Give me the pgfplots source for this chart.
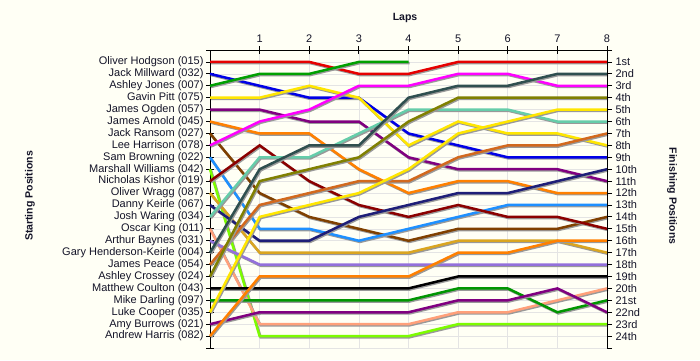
\documentclass[border=0pt]{standalone}
\usepackage{pgfplots}
\pgfplotsset{compat=1.18}
\usepackage{fontspec}
\setmainfont{Liberation Sans}
\definecolor{bg}{RGB}{255,255,245}
\definecolor{gridc}{RGB}{228,228,228}
\definecolor{cHodgson}{RGB}{230,0,0}
\definecolor{cMillward}{RGB}{0,0,230}
\definecolor{cJones}{RGB}{0,160,0}
\definecolor{cPitt}{RGB}{255,230,0}
\definecolor{cOgden}{RGB}{128,0,128}
\definecolor{cArnold}{RGB}{255,128,0}
\definecolor{cRansom}{RGB}{128,64,0}
\definecolor{cHarrison}{RGB}{255,0,255}
\definecolor{cBrowning}{RGB}{30,144,255}
\definecolor{cWilliams}{RGB}{124,252,0}
\definecolor{cKishor}{RGB}{139,0,0}
\definecolor{cWragg}{RGB}{218,165,32}
\definecolor{cKeirle}{RGB}{30,30,120}
\definecolor{cWaring}{RGB}{102,205,170}
\definecolor{cKing}{RGB}{255,160,122}
\definecolor{cBaynes}{RGB}{147,112,219}
\definecolor{cGHK}{RGB}{47,79,79}
\definecolor{cPeace}{RGB}{210,105,30}
\definecolor{cCrossey}{RGB}{128,128,0}
\definecolor{cCoulton}{RGB}{0,0,0}
\definecolor{cDarling}{RGB}{0,150,0}
\definecolor{cCooper}{RGB}{255,230,0}
\definecolor{cBurrows}{RGB}{128,0,128}
\definecolor{cHarris}{RGB}{255,128,0}
\definecolor{txt}{RGB}{20,20,40}
\begin{document}
\begin{tikzpicture}[x=1pt,y=1pt]
\fill[bg] (0,0) rectangle (700,360);
\begin{axis}[
  at={(210pt,12pt)}, anchor=south west,
  scale only axis, width=397pt, height=298pt,
  xmin=0, xmax=8, ymin=0, ymax=25, y dir=reverse,
  axis x line*=top, axis y line*=left,
  axis line style={black, line width=0.8pt},
  xtick={1,...,8}, ytick={0,...,25},
  yticklabels={,Oliver Hodgson (015),Jack Millward (032),Ashley Jones (007),Gavin Pitt (075),James Ogden (057),James Arnold (045),Jack Ransom (027),Lee Harrison (078),Sam Browning (022),Marshall Williams (042),Nicholas Kishor (019),Oliver Wragg (087),Danny Keirle (067),Josh Waring (034),Oscar King (011),Arthur Baynes (031),Gary Henderson-Keirle (004),James Peace (054),Ashley Crossey (024),Matthew Coulton (043),Mike Darling (097),Luke Cooper (035),Amy Burrows (021),Andrew Harris (082),},
  tick align=center, major tick length=8pt,
  tick style={black, line width=0.8pt},
  grid=major, major grid style={gridc, line width=0.6pt},
  ticklabel style={font=\fontsize{11}{12}\selectfont, text=txt},
  yticklabel style={xshift=1pt},
  /pgf/number format/assume math mode=true,
  clip=false,
  every axis plot/.append style={line width=2.5pt, line join=miter, no markers,
     preaction={draw=black!40, line width=2.5pt, transform canvas={shift={(1pt,-1.2pt)}}}},
]
\addplot[cHodgson] coordinates {(0,1)(1,1)(2,1)(3,2)(4,2)(5,1)(6,1)(7,1)(8,1)};
\addplot[cMillward] coordinates {(0,2)(1,3)(2,4)(3,4)(4,7)(5,8)(6,9)(7,9)(8,9)};
\addplot[cJones] coordinates {(0,3)(1,2)(2,2)(3,1)(4,1)};
\addplot[cPitt] coordinates {(0,4)(1,4)(2,3)(3,4)(4,8)(5,6)(6,7)(7,7)(8,8)};
\addplot[cOgden] coordinates {(0,5)(1,5)(2,6)(3,6)(4,9)(5,10)(6,10)(7,10)(8,11)};
\addplot[cArnold] coordinates {(0,6)(1,7)(2,7)(3,10)(4,12)(5,11)(6,11)(7,12)(8,12)};
\addplot[cRansom] coordinates {(0,7)(1,12)(2,14)(3,15)(4,16)(5,15)(6,15)(7,15)(8,14)};
\addplot[cHarrison] coordinates {(0,8)(1,6)(2,5)(3,3)(4,3)(5,2)(6,2)(7,3)(8,3)};
\addplot[cBrowning] coordinates {(0,9)(1,15)(2,15)(3,16)(4,15)(5,14)(6,13)(7,13)(8,13)};
\addplot[cWilliams] coordinates {(0,10)(1,24)(2,24)(3,24)(4,24)(5,23)(6,23)(7,23)(8,23)};
\addplot[cKishor] coordinates {(0,11)(1,8)(2,11)(3,13)(4,14)(5,13)(6,14)(7,14)(8,15)};
\addplot[cWragg] coordinates {(0,12)(1,17)(2,17)(3,17)(4,17)(5,16)(6,16)(7,16)(8,17)};
\addplot[cKeirle] coordinates {(0,13)(1,16)(2,16)(3,14)(4,13)(5,12)(6,12)(7,11)(8,10)};
\addplot[cWaring] coordinates {(0,14)(1,9)(2,9)(3,7)(4,5)(5,5)(6,5)(7,6)(8,6)};
\addplot[cKing] coordinates {(0,15)(1,23)(2,23)(3,23)(4,23)(5,22)(6,22)(7,21)(8,20)};
\addplot[cBaynes] coordinates {(0,16)(1,18)(2,18)(3,18)(4,18)(5,18)(6,18)(7,18)(8,18)};
\addplot[cGHK] coordinates {(0,17)(1,10)(2,8)(3,8)(4,4)(5,3)(6,3)(7,2)(8,2)};
\addplot[cPeace] coordinates {(0,18)(1,13)(2,12)(3,11)(4,11)(5,9)(6,8)(7,8)(8,7)};
\addplot[cCrossey] coordinates {(0,19)(1,11)(2,10)(3,9)(4,6)(5,4)(6,4)(7,4)(8,4)};
\addplot[cCoulton] coordinates {(0,20)(1,20)(2,20)(3,20)(4,20)(5,19)(6,19)(7,19)(8,19)};
\addplot[cDarling] coordinates {(0,21)(1,21)(2,21)(3,21)(4,21)(5,20)(6,20)(7,22)(8,21)};
\addplot[cCooper] coordinates {(0,22)(1,14)(2,13)(3,12)(4,10)(5,7)(6,6)(7,5)(8,5)};
\addplot[cBurrows] coordinates {(0,23)(1,22)(2,22)(3,22)(4,22)(5,21)(6,21)(7,20)(8,22)};
\addplot[cHarris] coordinates {(0,24)(1,19)(2,19)(3,19)(4,19)(5,17)(6,17)(7,16)(8,16)};
\end{axis}
\begin{axis}[
  at={(210pt,12pt)}, anchor=south west,
  scale only axis, width=397pt, height=298pt,
  xmin=0, xmax=8, ymin=0, ymax=25, y dir=reverse,
  axis x line=none, axis y line*=right,
  axis line style={black, line width=0.8pt},
  ytick={0,...,25},
  yticklabels={,1st,2nd,3rd,4th,5th,6th,7th,8th,9th,10th,11th,12th,13th,14th,15th,16th,17th,18th,19th,20th,21st,22nd,23rd,24th,},
  tick align=outside, major tick length=5pt,
  tick style={black, line width=0.8pt},
  ticklabel style={font=\fontsize{11}{12}\selectfont, text=txt},
]
\addplot[draw=none] coordinates {(0,1)(8,24)};
\end{axis}
\node[font=\bfseries\fontsize{10.5}{12}\selectfont, text=txt] at (405,342) {Laps};
\node[font=\bfseries\fontsize{10.5}{12}\selectfont, rotate=90, text=txt] at (30,164) {Starting Positions};
\node[font=\bfseries\fontsize{10.5}{12}\selectfont, rotate=-90, text=txt] at (672,164) {Finishing Positions};
\pgfresetboundingbox
\path[use as bounding box] (0,0) rectangle (700,360);
\end{tikzpicture}
\end{document}
